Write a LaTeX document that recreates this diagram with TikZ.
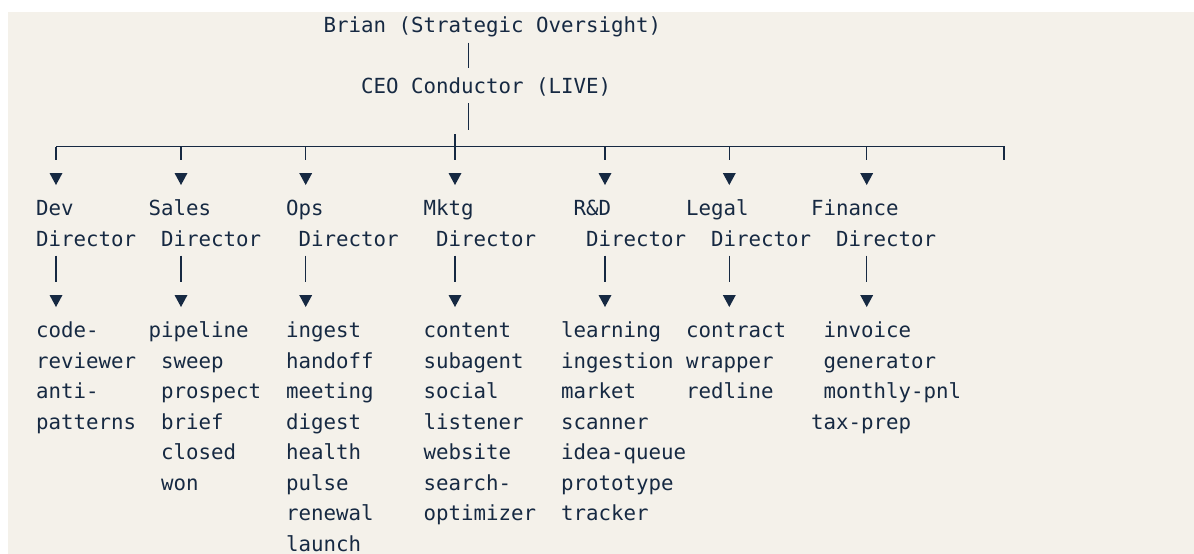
\documentclass[tikz,border=0pt]{standalone}
\usepackage{fontspec}
\newfontfamily\chartmono{DejaVu Sans Mono}
\definecolor{ink}{HTML}{162942}
\definecolor{paper}{HTML}{F4F1EA}

\tikzset{
  line/.style={font=\chartmono\fontsize{20.76pt}{30.5pt}\selectfont, text=ink,
    inner sep=0pt, anchor=base west},
  bar/.style={draw=ink, line width=1.4pt},
  tri/.style={fill=ink}
}

\begin{document}
\begin{tikzpicture}[x=1pt,y=-1pt]
  % Set the grid of the monospace text
  \def\xo{36}
  \def\cw{12.5}
  \def\lh{30.5}
  \def\yo{32.5}

  \useasboundingbox (0,0) rectangle (1194,554);
  \fill[paper] (8,12) rectangle (1194,554);

  % Top of the chart
  \node[line] (brian) at (\xo+23*\cw,\yo) {Brian (Strategic Oversight)};
  \node[line] (ceo) at (\xo+26*\cw,\yo+2*\lh) {CEO Conductor (LIVE)};
  \coordinate (spine) at (468.3,0);

  % One column per director, with its list of subagents
  \foreach \col/\tx/\hcol/\head/\dcol/\items in {
      dev/56/0/Dev/0/{0/code-,0/reviewer,0/anti-,0/patterns},
      sales/181/9/Sales/10/{9/pipeline,10/sweep,10/prospect,10/brief,10/closed,10/won},
      ops/305.7/20/Ops/21/{20/ingest,20/handoff,20/meeting,20/digest,20/health,20/pulse,20/renewal,20/launch},
      mktg/455/31/Mktg/32/{31/content,31/subagent,31/social,31/listener,31/website,31/search-,31/optimizer},
      rnd/605/43/R\&D/44/{42/learning,42/ingestion,42/market,42/scanner,42/idea-queue,42/prototype,42/tracker},
      legal/729.3/52/Legal/54/{52/contract,52/wrapper,52/redline},
      fin/866.7/62/Finance/64/{63/invoice,63/generator,63/monthly-pnl,62/tax-prep}} {
    \coordinate (\col-b) at (\tx,146.7);
    \coordinate (\col-u) at (\tx,179);
    \node[line] (\col-h) at (\xo+\hcol*\cw,\yo+6*\lh) {\head};
    \node[line] (\col-d) at (\xo+\dcol*\cw,\yo+7*\lh) {Director};
    \coordinate (\col-v) at (\tx,301);
    \fill[tri] (\col-u) +(-6.5,-6) -- +(6.5,-6) -- +(0,6) -- cycle;
    \fill[tri] (\col-v) +(-6.5,-6) -- +(6.5,-6) -- +(0,6) -- cycle;
    \draw[bar, shorten >=19pt] (\col-b) -- (\col-u);
    \draw[bar, shorten <=9.5pt, shorten >=19pt] (\col-d.base -| \col-v) -- (\col-v);
    \foreach \pos/\word [count=\row] in \items
      \node[line] (\col-\row) at (\xo+\pos*\cw,\yo+9*\lh+\row*\lh) {\word};
  }

  % Connectors from the top down to the bus
  \coordinate (bus-end) at (1004,146.7);
  \draw[bar, shorten <=10pt, shorten >=25.5pt] (brian.base -| spine) -- (ceo.base -| spine);
  \draw[bar, shorten <=9.5pt, shorten >=16.7pt] (ceo.base -| spine) -- (spine |- mktg-b);
  \draw[bar] (dev-b) -- (bus-end) -- ++(0,13.3);
  \draw[bar] (mktg-b) -- ++(0,-12.7);
\end{tikzpicture}
\end{document}
